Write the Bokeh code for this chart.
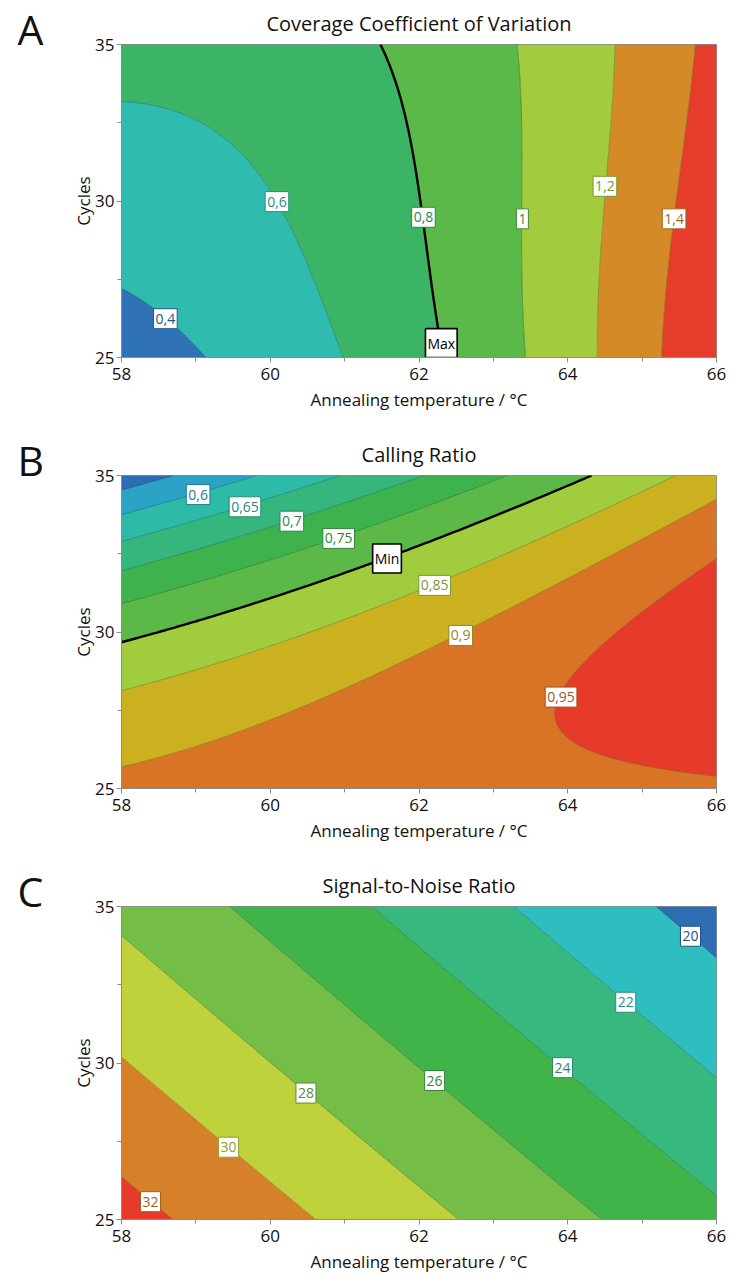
import numpy as np
from bokeh.plotting import figure
from bokeh.layouts import column, row
from bokeh.models import ColumnDataSource, FixedTicker, Range1d
from bokeh.core.properties import value
from bokeh.embed import file_html
from bokeh.resources import INLINE

FONT = "Open Sans"

TEMP_LIM = (58, 66)
CYCLE_LIM = (25, 35)
TEMP_TICKS = [58, 60, 62, 64, 66]
TEMP_MINOR = [59, 61, 63, 65]
CYCLE_TICKS = [25, 30, 35]
CYCLE_MINOR = [27.5, 32.5]
X_LABEL = "Annealing temperature / °C"
Y_LABEL = "Cycles"

# ---------------------------------------------------------------------------
# A  Coverage coefficient of variation
# points (level, temperature, cycles) lying on each iso-line of the response
cov_levels = [0.4, 0.6, 0.8, 1.0, 1.2, 1.4]
cov_pt_level = [0.4] * 5 + [0.6] * 8 + [0.8] * 5 + [1.0] * 3 + [1.2] * 3 + [1.4] * 3
cov_pt_temp = [58.0, 58.43, 58.84, 59.11, 58.59,
               58.0, 58.75, 59.37, 59.67, 60.09, 60.41, 60.81, 60.98,
               61.49, 61.93, 62.03, 62.15, 62.33,
               63.31, 63.39, 63.43,
               64.63, 64.50, 64.40,
               65.72, 65.43, 65.26]
cov_pt_cycles = [27.21, 26.66, 25.76, 25.0, 26.24,
                 33.12, 32.89, 32.15, 31.29, 30.02, 28.10, 26.18, 25.0,
                 35.0, 31.29, 30.0, 27.78, 25.0,
                 35.0, 29.43, 25.0,
                 35.0, 30.47, 25.0,
                 35.0, 29.43, 25.0]
cov_colors = ["#2f73b6", "#2fbcae", "#3bb466", "#5ab948", "#a3cb3e", "#d48b27", "#e63c2b"]
cov_limit = 0.8
cov_label_text = ["0,4", "0,6", "0,8", "1", "1,2", "1,4", "Max"]
cov_label_level = [0.4, 0.6, 0.8, 1.0, 1.2, 1.4, 0.8]
cov_label_temp = [58.59, 60.09, 62.06, 63.39, 64.50, 65.43, 62.30]
cov_label_cycles = [26.24, 29.98, 29.48, 29.43, 30.47, 29.43, 25.46]

# ---------------------------------------------------------------------------
# B  Calling ratio
call_levels = [0.55, 0.6, 0.65, 0.7, 0.75, 0.8, 0.85, 0.9, 0.95]
call_pt_level = [0.55] * 2 + [0.6] * 3 + [0.65] * 3 + [0.7] * 3 + [0.75] * 3 + [0.8] * 4 + [0.85] * 3 + [0.9] * 4 + [0.95] * 4
call_pt_temp = [58.0, 58.62,
                58.0, 59.03, 59.84,
                58.0, 59.66, 60.97,
                58.0, 60.29, 62.0,
                58.0, 60.92, 63.19,
                58.0, 59.97, 61.57, 64.32,
                58.0, 62.21, 65.44,
                58.0, 60.12, 62.56, 66.0,
                66.0, 63.91, 63.86, 66.0]
call_pt_cycles = [34.55, 35.0,
                  33.75, 34.39, 35.0,
                  32.90, 34.0, 35.0,
                  31.94, 33.54, 35.0,
                  30.90, 32.99, 35.0,
                  29.65, 31.25, 32.35, 35.0,
                  28.11, 31.49, 35.0,
                  25.59, 27.52, 29.89, 34.23,
                  32.37, 27.92, 27.31, 25.39]
call_colors = ["#2e6db5", "#2aa3c4", "#2dbaa6", "#35b67d", "#3eb24c", "#5db947",
               "#a1cc3e", "#cbb020", "#d97326", "#e63a2a"]
call_limit = 0.8
call_label_text = ["0,6", "0,65", "0,7", "0,75", "Min", "0,85", "0,9", "0,95"]
call_label_level = [0.6, 0.65, 0.7, 0.75, 0.8, 0.85, 0.9, 0.95]
call_label_temp = [59.03, 59.66, 60.29, 60.92, 61.57, 62.21, 62.56, 63.91]
call_label_cycles = [34.39, 34.0, 33.54, 32.99, 32.35, 31.49, 29.89, 27.92]

# ---------------------------------------------------------------------------
# C  Signal-to-noise ratio
snr_levels = [20, 22, 24, 26, 28, 30, 32]
snr_pt_level = [20] * 3 + [22] * 3 + [24] * 3 + [26] * 3 + [28] * 3 + [30] * 3 + [32] * 3
snr_pt_temp = [65.19, 65.65, 66.0,
               63.28, 64.78, 66.0,
               61.38, 63.93, 66.0,
               59.46, 62.21, 64.44,
               58.0, 60.48, 62.53,
               58.0, 59.44, 60.61,
               58.0, 58.39, 58.70]
snr_pt_cycles = [35.0, 34.05, 33.36,
                 35.0, 31.94, 29.53,
                 35.0, 29.85, 25.80,
                 35.0, 29.44, 25.0,
                 34.03, 29.04, 25.0,
                 30.22, 27.31, 25.0,
                 26.38, 25.57, 25.0]
snr_colors = ["#2d6db4", "#2ebec0", "#36b87e", "#41b449", "#74be48", "#c0d23b", "#d68129", "#e63a2b"]
snr_limit = None
snr_label_text = ["20", "22", "24", "26", "28", "30", "32"]
snr_label_level = [20, 22, 24, 26, 28, 30, 32]
snr_label_temp = [65.65, 64.78, 63.93, 62.21, 60.48, 59.44, 58.39]
snr_label_cycles = [34.05, 31.94, 29.85, 29.44, 29.04, 27.31, 25.57]

panel_letters = ["A", "B", "C"]

# page geometry (pixels)
PAGE_H = 1276
GUTTER_W = 60            # strip on the left holding the panel letters
FRAME_W, FRAME_H = 595, 313
TOP_BORDER = 44
PANEL_H = [431, 431, PAGE_H - 862]
LETTER_RISE = 16         # letter sits just above the top edge of its plot


def design(temp, cycles, degree):
    t = (np.asarray(temp, float) - 62.0) / 4.0
    n = (np.asarray(cycles, float) - 30.0) / 5.0
    cols = [t ** i * n ** j for i in range(degree + 1) for j in range(degree + 1 - i)]
    return np.stack(cols, axis=-1)


def response_surface(pt_level, pt_temp, pt_cycles, degree):
    coef, *_ = np.linalg.lstsq(design(pt_temp, pt_cycles, degree), np.asarray(pt_level, float), rcond=None)
    temps = np.linspace(*TEMP_LIM, 321)
    cycles = np.linspace(*CYCLE_LIM, 321)
    tt, nn = np.meshgrid(temps, cycles)
    return tt, nn, design(tt, nn, degree) @ coef


def shade(hex_color, k=0.7):
    r, g, b = (int(hex_color[i:i + 2], 16) for i in (1, 3, 5))
    return "#{:02x}{:02x}{:02x}".format(int(r * k), int(g * k), int(b * k))


def panel(title, levels, pts, degree, colors, limit, labels, height):
    tt, nn, zz = response_surface(*pts, degree)
    p = figure(frame_width=FRAME_W, frame_height=FRAME_H, height=height,
               x_range=Range1d(*TEMP_LIM), y_range=Range1d(*CYCLE_LIM),
               min_border_left=121 - GUTTER_W, min_border_right=13, min_border_top=TOP_BORDER,
               min_border_bottom=height - TOP_BORDER - FRAME_H,
               toolbar_location=None, output_backend="svg",
               background_fill_color="white", border_fill_color="white")

    lo = min(zz.min(), levels[0]) - 1e-6
    hi = max(zz.max(), levels[-1]) + 1e-6
    p.contour(tt, nn, zz, [lo] + list(levels) + [hi], fill_color=colors, line_color=None)

    line_colors = ["black" if lv == limit else shade(colors[i]) for i, lv in enumerate(levels)]
    line_widths = [2.4 if lv == limit else 0.8 for lv in levels]
    p.contour(tt, nn, zz, list(levels), line_color=line_colors, line_width=line_widths)

    text, lab_level, lab_t, lab_n = labels
    lab_color = ["black" if s in ("Max", "Min") else shade(colors[levels.index(lv)], 0.75)
                 for s, lv in zip(text, lab_level)]
    lab_bw = [1.6 if s in ("Max", "Min") else 1.0 for s in text]
    src = ColumnDataSource(dict(x=lab_t, y=lab_n, text=text, color=lab_color, bw=lab_bw))
    p.text("x", "y", "text", source=src, text_color="color", text_font=value(FONT),
           text_font_size="14px", text_align="center", text_baseline="middle",
           background_fill_color="white", border_line_color="color",
           border_line_width="bw", padding=(2, 5))

    p.grid.visible = False
    p.outline_line_color = "#8c8c8c"
    p.outline_line_width = 1
    p.xaxis.ticker = FixedTicker(ticks=TEMP_TICKS, minor_ticks=TEMP_MINOR)
    p.yaxis.ticker = FixedTicker(ticks=CYCLE_TICKS, minor_ticks=CYCLE_MINOR)
    p.xaxis.axis_label = X_LABEL
    p.yaxis.axis_label = Y_LABEL
    for ax in (p.xaxis[0], p.yaxis[0]):
        ax.axis_line_color = "#8c8c8c"
        ax.major_tick_line_color = "#8c8c8c"
        ax.minor_tick_line_color = "#8c8c8c"
        ax.major_tick_in = 0
        ax.major_tick_out = 5
        ax.minor_tick_in = 0
        ax.minor_tick_out = 4
        ax.major_label_text_font = FONT
        ax.major_label_text_font_size = "17px"
        ax.major_label_text_color = "#111111"
        ax.axis_label_text_font = FONT
        ax.axis_label_text_font_size = "17px"
        ax.axis_label_text_font_style = "normal"
        ax.axis_label_text_color = "#111111"
    p.xaxis.major_label_standoff = 5
    p.xaxis.axis_label_standoff = 5
    p.yaxis.major_label_standoff = 2
    p.yaxis.axis_label_standoff = -3

    p.title.text = title
    p.title.align = "center"
    p.title.offset = 5
    p.title.standoff = 15
    p.title.text_font = FONT
    p.title.text_font_size = "20px"
    p.title.text_font_style = "normal"
    p.title.text_color = "#111111"
    return p


pa = panel("Coverage Coefficient of Variation", cov_levels,
           (cov_pt_level, cov_pt_temp, cov_pt_cycles), 3, cov_colors, cov_limit,
           (cov_label_text, cov_label_level, cov_label_temp, cov_label_cycles), PANEL_H[0])
pb = panel("Calling Ratio", call_levels,
           (call_pt_level, call_pt_temp, call_pt_cycles), 2, call_colors, call_limit,
           (call_label_text, call_label_level, call_label_temp, call_label_cycles), PANEL_H[1])
pc = panel("Signal-to-Noise Ratio", snr_levels,
           (snr_pt_level, snr_pt_temp, snr_pt_cycles), 2, snr_colors, snr_limit,
           (snr_label_text, snr_label_level, snr_label_temp, snr_label_cycles), PANEL_H[2])

# left strip with the panel letters, in pixel coordinates measured from the top
gutter = figure(width=GUTTER_W, height=PAGE_H, x_range=Range1d(0, GUTTER_W),
                y_range=Range1d(PAGE_H, 0), min_border=0, toolbar_location=None,
                output_backend="svg", x_axis_location=None, y_axis_location=None,
                background_fill_color="white", border_fill_color="white")
gutter.grid.visible = False
gutter.outline_line_color = None
panel_tops = np.cumsum([0] + PANEL_H[:-1]) + TOP_BORDER
gutter.text(x=[17] * 3, y=list(panel_tops - LETTER_RISE), text=panel_letters, text_font=value(FONT),
            text_font_size="41px", text_color="#111111", text_align="left",
            text_baseline="alphabetic")

layout = row(gutter, column(pa, pb, pc, spacing=0), spacing=0)
open("out.html", "w").write(file_html(layout, INLINE))
